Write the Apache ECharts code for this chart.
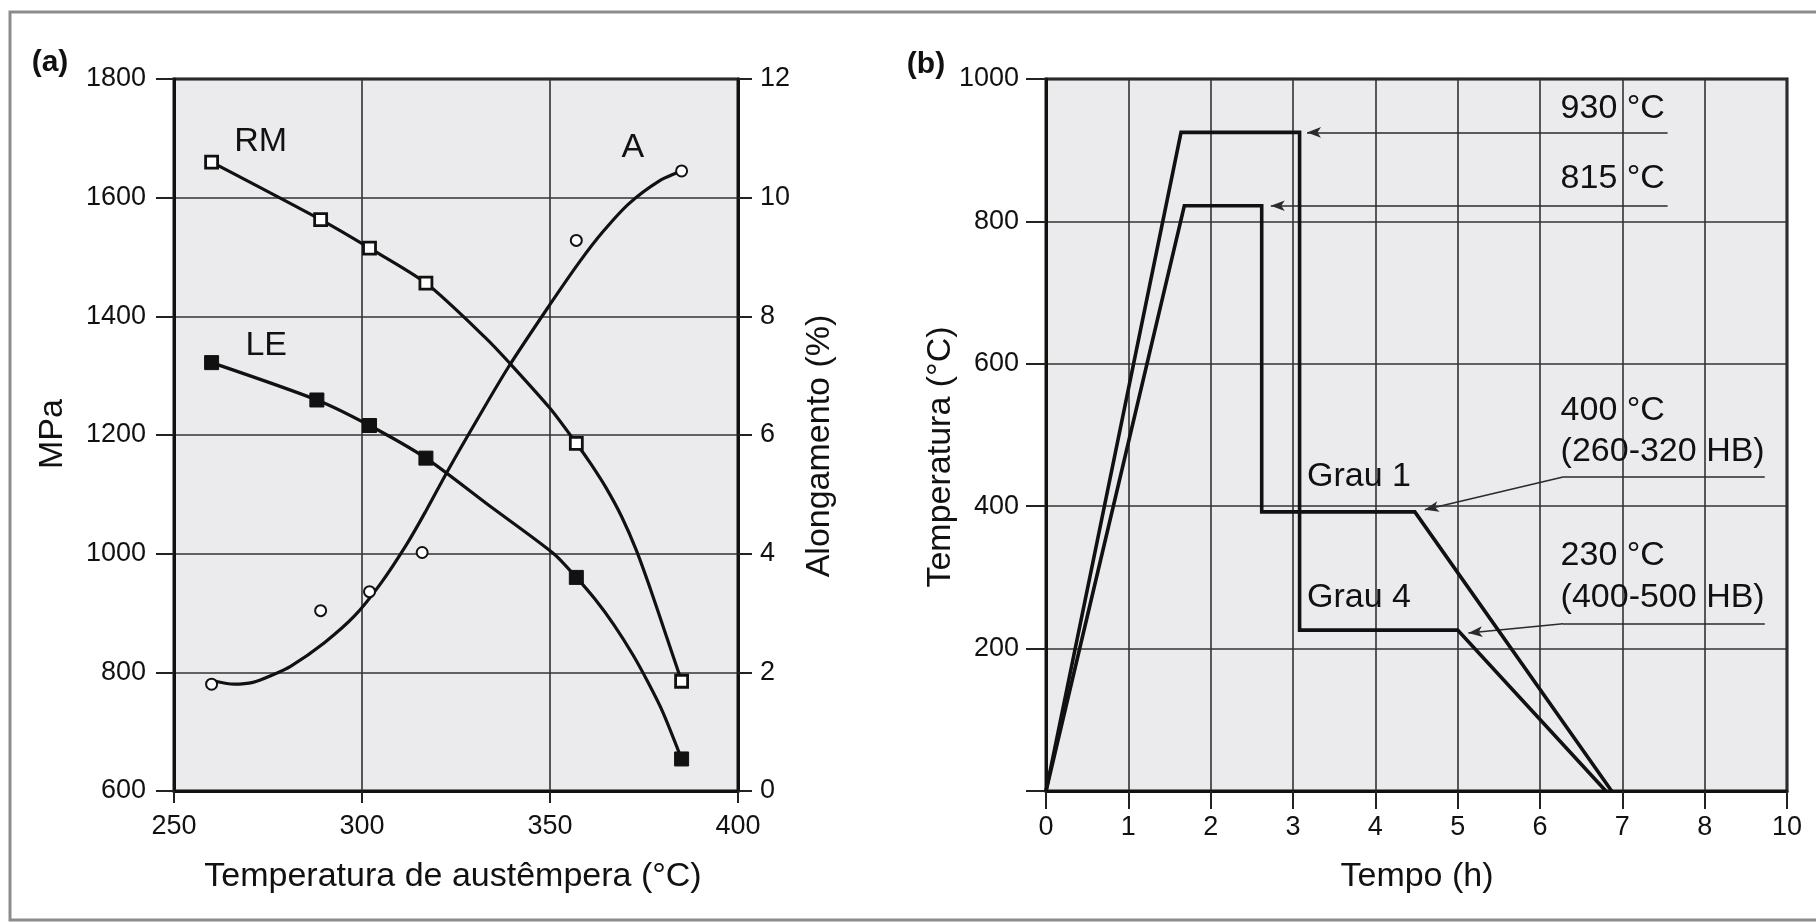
<!DOCTYPE html>
<html><head><meta charset="utf-8">
<script src="https://cdn.jsdelivr.net/npm/echarts@6/dist/echarts.min.js"></script>
<style>html,body{margin:0;padding:0;background:#fff}#c{width:1816px;height:922px}</style>
</head><body><div id="c"></div>
<script>
// ---------- Panel (a) data ----------
// measured points (markers)
const rmTemp   = [260, 289, 302, 317, 357, 385];
const rmValues = [1660, 1563, 1515, 1456, 1186, 785];
const leTemp   = [260, 288, 302, 317, 357, 385];
const leValues = [1322, 1259, 1216, 1161, 960, 654];
const aTemp    = [260, 289, 302, 316, 357, 385];
const aValues  = [1.8, 3.04, 3.36, 4.02, 9.28, 10.45];
// fitted curves
const rmFitTemp   = [260, 289, 302, 317, 333, 339, 350, 357, 361, 365, 369, 373, 377, 381, 385];
const rmFitValues = [1660, 1563, 1515, 1456, 1363, 1323, 1245, 1186, 1150, 1110, 1063, 1005, 935, 860, 785];
const leFitTemp   = [260, 288, 302, 317, 333, 351, 357, 362, 367, 372, 376, 380, 385];
const leFitValues = [1322, 1259, 1216, 1161, 1085, 1000, 960, 923, 880, 830, 784, 733, 654];
const aFitTemp   = [261, 266, 271, 276, 281, 290, 298, 305, 312, 317, 323, 331, 339, 350, 358, 364, 371, 379, 385];
const aFitValues = [1.85, 1.8, 1.83, 1.95, 2.1, 2.5, 2.95, 3.5, 4.17, 4.72, 5.42, 6.3, 7.15, 8.2, 8.93, 9.42, 9.9, 10.28, 10.45];
const seriesLabelsA = [['RM', 266, 1695], ['LE', 269, 1350], ['A', 369, 1684]];

// ---------- Panel (b) data ----------
const grau1Time = [0, 1.68, 2.62, 2.62, 4.48, 6.87];
const grau1Temp = [0, 822, 822, 392, 392, 0];
const grau4Time = [0, 1.64, 3.08, 3.08, 5.0, 6.8];
const grau4Temp = [0, 925, 925, 226, 226, 0];
const timeTickLabels = ['0', '1', '2', '3', '4', '5', '6', '7', '8', '10'];
const arrow930 = [[7.55, 925], [3.17, 925]];
const arrow815 = [[7.55, 822], [2.73, 822]];
const arrow400 = [[8.73, 441], [6.28, 441], [4.6, 395]];
const arrow230 = [[8.73, 235], [6.28, 235], [5.13, 222]];
const textsB = [
  ['930 °C', 6.25, 958], ['815 °C', 6.25, 860],
  ['400 °C', 6.25, 534], ['(260-320 HB)', 6.25, 476],
  ['230 °C', 6.25, 330], ['(400-500 HB)', 6.25, 272],
  ['Grau 1', 3.17, 441], ['Grau 4', 3.17, 271]
];

const FONT = '"Liberation Sans", Arial, Helvetica, sans-serif';
const INK = '#111111';

const zip = (a, b) => a.map((v, i) => [v, b[i]]);

function arrowLines(pts) {
  const out = [];
  for (let i = 0; i < pts.length - 1; i++) {
    const last = i === pts.length - 2;
    out.push([
      { coord: pts[i], symbol: 'none' },
      { coord: pts[i + 1], symbol: last ? 'arrow' : 'none', symbolSize: last ? [8, 14] : 0 }
    ]);
  }
  return out;
}

const axisLineStyle = { show: true, lineStyle: { color: '#111', width: 3 } };
const tickStyle = (len) => ({ show: true, inside: false, length: len, lineStyle: { color: '#222', width: 2 } });
const splitStyle = { show: true, lineStyle: { color: '#333', width: 1.6 } };
const labelStyle = (margin) => ({ fontFamily: FONT, fontSize: 27, color: INK, margin: margin, formatter: v => String(v) });
const curveStyle = { color: '#111', width: 3.2, opacity: 1 };

const chart = echarts.init(document.getElementById('c'), null, { renderer: 'canvas' });
chart.setOption({
  animation: false,
  backgroundColor: '#ffffff',
  grid: [
    { left: 174, top: 79, width: 564, height: 712, show: true, backgroundColor: '#ebebed', borderColor: '#111', borderWidth: 3, outerBoundsMode: 'none', containLabel: false },
    { left: 1046, top: 79, width: 741, height: 712, show: true, backgroundColor: '#ebebed', borderColor: '#111', borderWidth: 3, outerBoundsMode: 'none', containLabel: false }
  ],
  xAxis: [
    { type: 'value', gridIndex: 0, min: 250, max: 400, interval: 50,
      axisLine: axisLineStyle, axisTick: tickStyle(12), splitLine: splitStyle,
      axisLabel: labelStyle(22) },
    { type: 'value', gridIndex: 1, min: 0, max: 9, interval: 1,
      axisLine: axisLineStyle, axisTick: tickStyle(18), splitLine: splitStyle,
      axisLabel: Object.assign(labelStyle(23), { formatter: v => timeTickLabels[Math.round(v)] }) }
  ],
  yAxis: [
    { type: 'value', gridIndex: 0, min: 600, max: 1800, interval: 200,
      axisLine: axisLineStyle, axisTick: tickStyle(18), splitLine: splitStyle,
      axisLabel: labelStyle(28) },
    { type: 'value', gridIndex: 0, position: 'right', min: 0, max: 12, interval: 2,
      axisLine: axisLineStyle, axisTick: tickStyle(14), splitLine: { show: false },
      axisLabel: labelStyle(22) },
    { type: 'value', gridIndex: 1, min: 0, max: 1000, interval: 200,
      axisLine: axisLineStyle, axisTick: tickStyle(20), splitLine: splitStyle,
      axisLabel: Object.assign(labelStyle(27), { formatter: v => (v === 0 ? '' : String(v)) }) }
  ],
  series: [
    { name: 'RM (curva)', type: 'line', xAxisIndex: 0, yAxisIndex: 0, data: zip(rmFitTemp, rmFitValues),
      smooth: 0.25, symbol: 'none', z: 4, lineStyle: curveStyle },
    { name: 'LE (curva)', type: 'line', xAxisIndex: 0, yAxisIndex: 0, data: zip(leFitTemp, leFitValues),
      smooth: 0.25, symbol: 'none', z: 4, lineStyle: curveStyle },
    { name: 'A (curva)', type: 'line', xAxisIndex: 0, yAxisIndex: 1, data: zip(aFitTemp, aFitValues),
      smooth: 0.3, symbol: 'none', z: 4, lineStyle: curveStyle },
    { name: 'RM', type: 'scatter', xAxisIndex: 0, yAxisIndex: 0, data: zip(rmTemp, rmValues),
      symbol: 'rect', symbolSize: 12, z: 6,
      itemStyle: { color: '#ffffff', borderColor: '#111', borderWidth: 2.8, opacity: 1 } },
    { name: 'LE', type: 'scatter', xAxisIndex: 0, yAxisIndex: 0, data: zip(leTemp, leValues),
      symbol: 'rect', symbolSize: 14, z: 6,
      itemStyle: { color: '#111', borderColor: '#111', borderWidth: 1, opacity: 1 } },
    { name: 'A', type: 'scatter', xAxisIndex: 0, yAxisIndex: 1, data: zip(aTemp, aValues),
      symbol: 'circle', symbolSize: 11, z: 6,
      itemStyle: { color: '#ffffff', borderColor: '#111', borderWidth: 2, opacity: 1 } },
    { name: 'rótulos (a)', type: 'scatter', xAxisIndex: 0, yAxisIndex: 0, symbolSize: 0, z: 7, silent: true,
      itemStyle: { opacity: 1 },
      data: seriesLabelsA.map(d => ({ name: d[0], value: [d[1], d[2]] })),
      label: { show: true, position: 'right', distance: 0, formatter: p => p.name,
        fontFamily: FONT, fontSize: 34, color: INK } },
    { name: 'Grau 1', type: 'line', xAxisIndex: 1, yAxisIndex: 2, data: zip(grau1Time, grau1Temp),
      symbol: 'none', z: 5, lineStyle: { color: '#111', width: 3.6, join: 'miter' },
      markLine: { silent: true, animation: false, symbol: ['none', 'arrow'], precision: 4,
        label: { show: false }, lineStyle: { color: '#2a2a2a', width: 1.6, type: 'solid', opacity: 1 },
        emphasis: { disabled: true },
        data: [].concat(arrowLines(arrow930), arrowLines(arrow815), arrowLines(arrow400), arrowLines(arrow230)) } },
    { name: 'Grau 4', type: 'line', xAxisIndex: 1, yAxisIndex: 2, data: zip(grau4Time, grau4Temp),
      symbol: 'none', z: 5, lineStyle: { color: '#111', width: 3.6, join: 'miter' } },
    { name: 'rótulos (b)', type: 'scatter', xAxisIndex: 1, yAxisIndex: 2, symbolSize: 0, z: 7, silent: true,
      itemStyle: { opacity: 1 },
      data: textsB.map(d => ({ name: d[0], value: [d[1], d[2]] })),
      label: { show: true, position: 'right', distance: 0, formatter: p => p.name,
        fontFamily: FONT, fontSize: 34, color: INK } }
  ],
  graphic: [
    { type: 'rect', z: 0, shape: { x: 10, y: 12, width: 1830, height: 908 },
      style: { fill: 'none', stroke: '#8c8c8c', lineWidth: 3 } },
    { type: 'text', x: 50, y: 63, style: { text: '(a)', font: 'bold 30px ' + FONT, fill: INK, align: 'center', verticalAlign: 'middle' } },
    { type: 'text', x: 926, y: 65, style: { text: '(b)', font: 'bold 30px ' + FONT, fill: INK, align: 'center', verticalAlign: 'middle' } },
    { type: 'text', x: 453, y: 877, style: { text: 'Temperatura de austêmpera (°C)', font: '34px ' + FONT, fill: INK, align: 'center', verticalAlign: 'middle' } },
    { type: 'text', x: 1417, y: 877, style: { text: 'Tempo (h)', font: '34px ' + FONT, fill: INK, align: 'center', verticalAlign: 'middle' } },
    { type: 'text', x: 53, y: 434, rotation: Math.PI / 2, style: { text: 'MPa', font: '34px ' + FONT, fill: INK, align: 'center', verticalAlign: 'middle' } },
    { type: 'text', x: 820, y: 446, rotation: Math.PI / 2, style: { text: 'Alongamento (%)', font: '34px ' + FONT, fill: INK, align: 'center', verticalAlign: 'middle' } },
    { type: 'text', x: 941, y: 457, rotation: Math.PI / 2, style: { text: 'Temperatura (°C)', font: '34px ' + FONT, fill: INK, align: 'center', verticalAlign: 'middle' } }
  ]
});
</script></body></html>
